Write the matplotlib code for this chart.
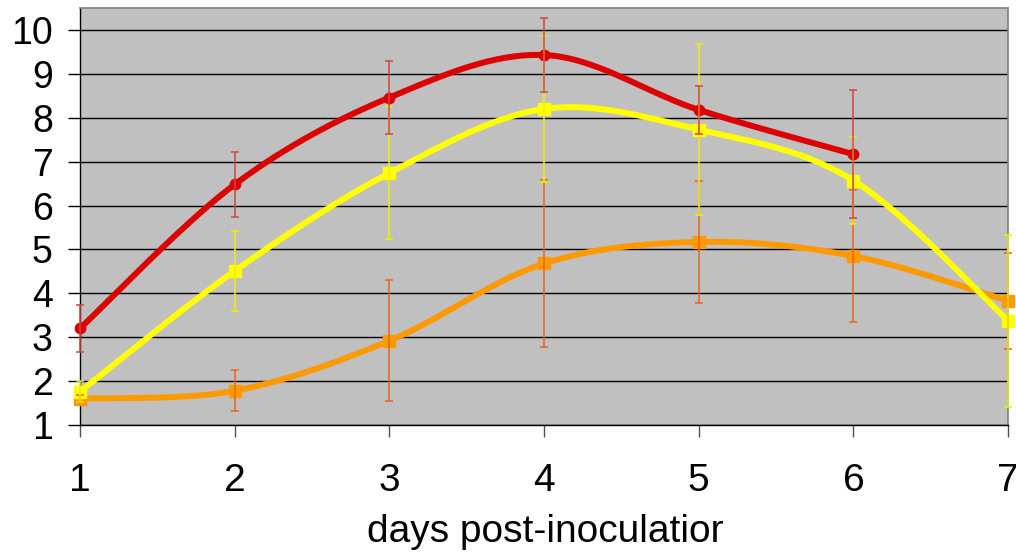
import numpy as np
import matplotlib
matplotlib.use('Agg')
import matplotlib.pyplot as plt

plt.rcParams['font.family'] = ['Liberation Sans', 'DejaVu Sans']

# data
days = [1, 2, 3, 4, 5, 6, 7]

red_vals = [3.2, 6.48, 8.46, 9.43, 8.18, 7.17]
red_err = [0.53, 0.73, 0.83, 0.85, 0.55, 1.46]

yellow_vals = [1.76, 4.51, 6.74, 8.20, 7.73, 6.57, 3.38]
yellow_err = [0.24, 0.92, 1.50, 1.66, 1.94, 1.00, 1.96]

orange_vals = [1.60, 1.78, 2.92, 4.68, 5.17, 4.85, 3.83]
orange_err = [0.08, 0.47, 1.38, 1.90, 1.38, 1.50, 1.09]


def smooth(x, y, n=40):
    # Excel-like smoothed line: Bezier segments with Catmull-Rom control points
    x = np.asarray(x, float)
    y = np.asarray(y, float)
    px = np.concatenate([[x[0]], x, [x[-1]]])
    py = np.concatenate([[y[0]], y, [y[-1]]])
    xs, ys = [], []
    t = np.linspace(0, 1, n)
    for i in range(1, len(px) - 2):
        p0 = np.array([px[i], py[i]])
        p3 = np.array([px[i + 1], py[i + 1]])
        c1 = p0 + (np.array([px[i + 1], py[i + 1]]) - np.array([px[i - 1], py[i - 1]])) / 6
        c2 = p3 - (np.array([px[i + 2], py[i + 2]]) - np.array([px[i], py[i]])) / 6
        b = ((1 - t) ** 3)[:, None] * p0 + (3 * (1 - t) ** 2 * t)[:, None] * c1 \
            + (3 * (1 - t) * t ** 2)[:, None] * c2 + (t ** 3)[:, None] * p3
        xs.append(b[:, 0])
        ys.append(b[:, 1])
    return np.concatenate(xs), np.concatenate(ys)


fig = plt.figure(figsize=(10.16, 5.52), dpi=100)
ax = fig.add_axes([0.0787, 0.23, 0.9135, 0.7555])
ax.set_facecolor('#C0C0C0')

series = [
    (orange_vals, orange_err, '#FF9900', '#E8641E', 's'),
    (yellow_vals, yellow_err, '#FFFF00', '#F0F000', 's'),
    (red_vals, red_err, '#DD0000', '#D04545', 'o'),
]

for vals, err, col, ecol, mk in series:
    xd = days[:len(vals)]
    sx, sy = smooth(xd, vals)
    ax.plot(sx, sy, color=col, lw=4.3, solid_capstyle='round', zorder=3, clip_on=False)
    ax.plot(xd, vals, ls='none', marker=mk, ms=8 if mk == 's' else 7.5,
            color=col, mec=col, zorder=4, clip_on=False)
    ax.errorbar(xd, vals, yerr=err, fmt='none', ecolor=ecol, elinewidth=1.1,
                capsize=3, capthick=1.1, zorder=5, clip_on=False)

ax.set_xlim(1, 7)
ax.set_ylim(1, 10.5)
ax.set_yticks(range(1, 11))
ax.set_xticks(days)
ax.grid(axis='y', color='black', lw=1.0, zorder=1)
ax.set_axisbelow(True)

for s in ['top', 'right']:
    ax.spines[s].set_color('#808080')
    ax.spines[s].set_linewidth(1.2)
ax.spines['left'].set_color('black')
ax.spines['bottom'].set_color('black')
ax.spines['left'].set_linewidth(1.0)
ax.spines['bottom'].set_linewidth(1.0)

ax.tick_params(axis='y', direction='out', length=8.5, width=1, color='black',
               labelsize=27, pad=11)
ax.tick_params(axis='x', direction='out', length=8.5, width=1, color='#505050',
               labelsize=28, pad=19)
fig.text(545 / 1016, 1 - 542 / 552, 'days post-inoculatior', fontsize=28,
         ha='center', va='baseline')

fig.savefig('out.png', dpi=100, facecolor='white')
